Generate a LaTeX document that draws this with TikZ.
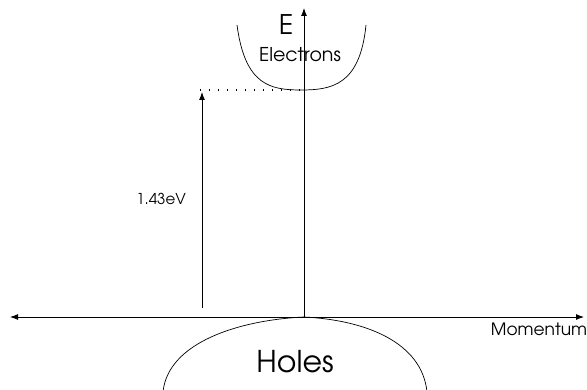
\documentclass[tikz,border=0pt]{standalone}
\usepackage[T1]{fontenc}
\usepackage{avant}
\renewcommand{\familydefault}{\sfdefault}
\usetikzlibrary{arrows.meta}
\begin{document}
\begin{tikzpicture}[x=1pt,y=-1pt,
  axis/.style={line width=0.9pt,-{Latex[length=8pt,width=6pt]}},
  curve/.style={line width=0.7pt},
  lbl/.style={inner sep=0pt,anchor=base,text=black}]
\useasboundingbox (0,0) rectangle (587,390);
% axes
\coordinate (xl) at (10,317);
\coordinate (xr) at (584,317);
\coordinate (o) at (304,317);
\coordinate (etop) at (304,8);
\draw[line width=0.9pt,{Latex[length=8pt,width=6pt]}-{Latex[length=8pt,width=6pt]}] (xl) -- (xr);
\draw[axis] (o) -- (etop);
% band gap arrow
\coordinate (gb) at (202,308);
\coordinate (gt) at (202,92);
\draw[axis] (gb) -- (gt);
% dotted level
\coordinate (dl) at (200,90);
\coordinate (dr) at (304,90);
\draw[line width=1.1pt,dash pattern=on 1.2pt off 7.8pt] (dl) -- (dr);
% electron band
\coordinate (el) at (237,25);
\coordinate (eb) at (301,90);
\coordinate (er) at (366,25);
\draw[curve] (el) .. controls (245,85) and (270,90) .. (eb)
  .. controls (332,90) and (360,85) .. (er);
% hole band
\coordinate (hl) at (163,392);
\coordinate (hr) at (427,392);
\draw[curve] (hl) .. controls (168,342) and (240,320) .. (o)
  .. controls (365,320) and (422,342) .. (hr);
% labels
\node[lbl,font=\fontsize{27}{27}\selectfont] (E) at (286,35) {E};
\node[lbl,font=\fontsize{19}{19}\selectfont] (elab) at (300,62) {Electrons};
\node[lbl,font=\fontsize{30}{30}\selectfont] (holes) at (295,373) {Holes};
\node[lbl,font=\fontsize{17}{17}\selectfont] (mom) at (539,336) {Momentum};
\node[lbl,font=\fontsize{15}{15}\selectfont,anchor=base east] (gap) at (186,205) {1.43eV};
\end{tikzpicture}
\end{document}
